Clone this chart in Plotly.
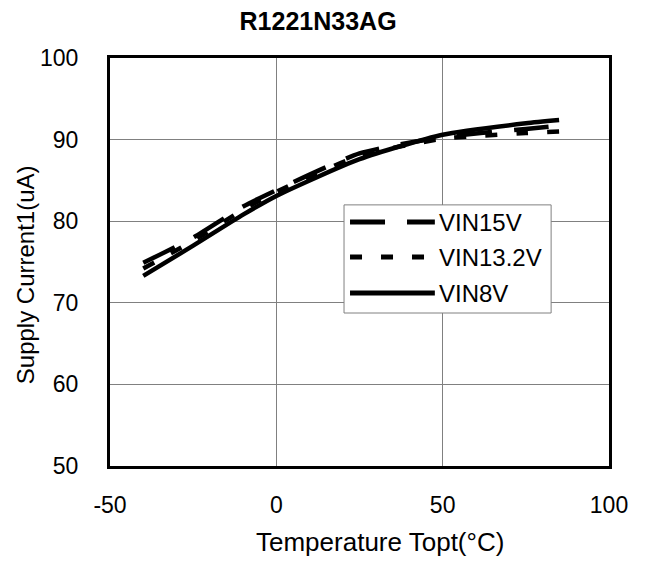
import plotly.graph_objects as go

# Temperature points (deg C) and supply current (uA) per input voltage
temps = [-40, -25, -10, 0, 25, 50, 75, 85]
vin15 = [74.9, 78.0, 81.8, 83.8, 88.3, 90.3, 91.3, 91.7]
vin132 = [74.2, 77.6, 81.4, 83.6, 88.0, 90.1, 90.8, 91.0]
vin8 = [73.3, 77.0, 80.8, 83.1, 87.6, 90.6, 92.0, 92.4]

x_ticks = [-50, 0, 50, 100]
x_tick_labels = ["-50", "0", "50", "100"]
y_ticks = [50, 60, 70, 80, 90, 100]

series_names = ["VIN15V", "VIN13.2V", "VIN8V"]
series_dash = ["35px,22px", "12px,19px", "solid"]

FONT = "Arial, Liberation Sans, sans-serif"

fig = go.Figure()
for name, vals, dash in zip(series_names, [vin15, vin132, vin8], series_dash):
    fig.add_trace(go.Scatter(x=temps, y=vals, name=name, mode="lines", showlegend=False,
                             line=dict(color="black", width=4.5, dash=dash,
                                       shape="spline", smoothing=0.6)))

# hand-drawn legend box (long line samples like the original)
legend_x0, legend_x1 = 0.469, 0.884
legend_y0, legend_y1 = 0.375, 0.640
row_y = [0.598, 0.512, 0.424]
fig.add_shape(type="rect", xref="paper", yref="paper",
              x0=legend_x0, x1=legend_x1, y0=legend_y0, y1=legend_y1,
              line=dict(color="#808080", width=1), fillcolor="white", layer="above")
for name, dash, yy in zip(series_names, series_dash, row_y):
    fig.add_shape(type="line", xref="paper", yref="paper", x0=0.481, x1=0.651, y0=yy, y1=yy,
                  line=dict(color="black", width=5, dash=dash), layer="above")
    fig.add_annotation(text=name, xref="paper", yref="paper", x=0.655, y=yy,
                       xanchor="left", yanchor="middle", showarrow=False,
                       font=dict(size=24, family=FONT, color="black"))

fig.add_annotation(text="Temperature Topt(°C)", xref="paper", yref="paper",
                   x=0.541, y=-0.186, xanchor="center", yanchor="middle", showarrow=False,
                   font=dict(size=26, family=FONT, color="black"))
fig.add_annotation(text="Supply Current1(uA)", xref="paper", yref="paper",
                   x=-0.170, y=0.468, xanchor="center", yanchor="middle", showarrow=False,
                   textangle=-90, font=dict(size=24, family=FONT, color="black"))

# page body adds ~8px offset, so margins are shifted to keep the plot box in place
fig.update_layout(
    width=648, height=561,
    margin=dict(l=102, r=47, t=50, b=103),
    paper_bgcolor="white", plot_bgcolor="white",
    font=dict(family=FONT, size=23, color="black"),
    title=dict(text="<b>R1221N33AG</b>", xref="paper", x=0.417, xanchor="center",
               y=0.977, yanchor="middle", font=dict(size=25, family=FONT)),
    showlegend=False,
)
fig.update_xaxes(range=[-50, 100], tickvals=x_ticks, ticktext=x_tick_labels, showgrid=True,
                 gridcolor="#808080", gridwidth=1, zeroline=False,
                 showline=True, linecolor="black", linewidth=3, mirror=True,
                 ticks="outside", ticklen=16, tickcolor="rgba(0,0,0,0)", automargin=False)
fig.update_yaxes(range=[50, 100], tickvals=y_ticks, showgrid=True,
                 gridcolor="#808080", gridwidth=1, zeroline=False,
                 showline=True, linecolor="black", linewidth=3, mirror=True,
                 ticks="outside", ticklen=24, tickcolor="rgba(0,0,0,0)", automargin=False)

fig.write_html("out.html")
